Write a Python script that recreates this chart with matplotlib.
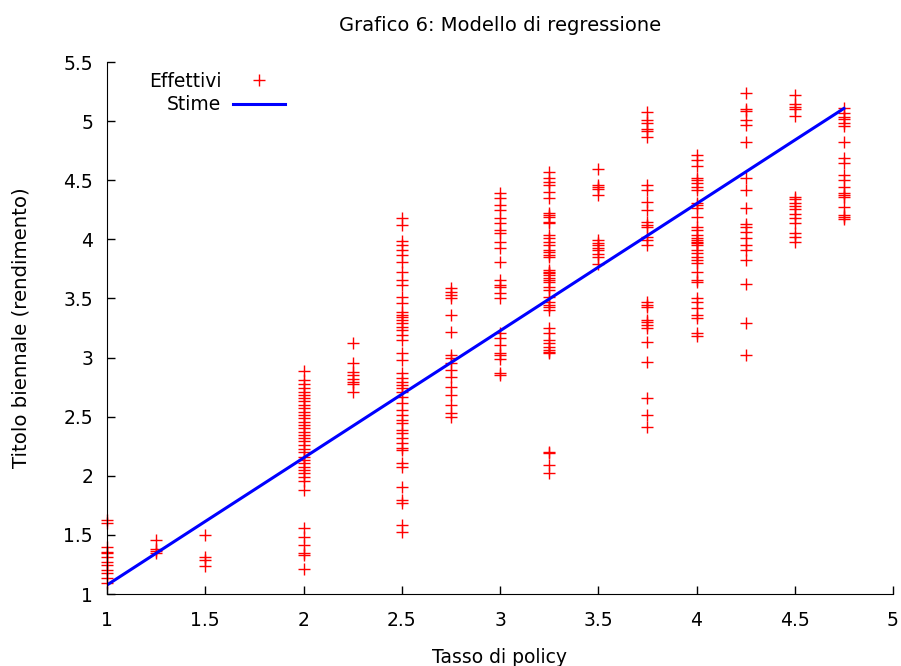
import numpy as np
import matplotlib as mpl
mpl.use('Agg')
from matplotlib import pyplot as plt
from matplotlib.ticker import FuncFormatter, MultipleLocator

# -- dati: tasso di policy e rendimento del titolo biennale --
y_100 = [1.626, 1.603, 1.40, 1.358, 1.344, 1.315, 1.273, 1.245, 1.203, 1.175, 1.133, 1.09]
y_125 = [1.457, 1.378, 1.366, 1.349]
y_150 = [1.50, 1.315, 1.29, 1.237]
y_200 = [2.889, 2.81, 2.78, 2.74, 2.71, 2.68, 2.655, 2.63, 2.60, 2.57, 2.54, 2.51,
         2.485, 2.457, 2.43, 2.40, 2.37, 2.345, 2.316, 2.29, 2.26, 2.23, 2.20, 2.16,
         2.13, 2.105, 2.077, 2.05, 2.02, 1.99, 1.96, 1.88,
         1.556, 1.485, 1.414, 1.344, 1.33, 1.209]
y_225 = [3.125, 2.95, 2.88, 2.85, 2.82, 2.79, 2.78, 2.71]
y_250 = [4.177, 4.12, 3.99, 3.95, 3.91, 3.867, 3.81, 3.726, 3.655, 3.613, 3.514,
         3.458, 3.388, 3.36, 3.345, 3.317, 3.289, 3.26, 3.232, 3.19, 3.148, 3.035,
         2.979, 2.866, 2.824, 2.796, 2.767, 2.739, 2.711, 2.669, 2.612, 2.556,
         2.514, 2.471, 2.443, 2.387, 2.359, 2.316, 2.274, 2.232, 2.218, 2.105,
         2.077, 1.908, 1.795, 1.767, 1.584, 1.527]
y_275 = [3.585, 3.557, 3.529, 3.50, 3.36, 3.218, 3.02, 2.993, 2.95, 2.894, 2.838,
         2.753, 2.683, 2.598, 2.528, 2.50]
y_300 = [4.388, 4.346, 4.29, 4.247, 4.177, 4.135, 4.078, 4.05, 3.98, 3.923, 3.81,
         3.655, 3.613, 3.60, 3.543, 3.50, 3.204, 3.162, 3.106, 3.035, 3.02, 2.99,
         2.866, 2.852]
y_325 = [4.572, 4.515, 4.487, 4.459, 4.402, 4.346, 4.219, 4.205, 4.19, 4.149, 4.135,
         4.036, 4.008, 3.98, 3.95, 3.91, 3.895, 3.867, 3.853, 3.74, 3.726, 3.712,
         3.698, 3.669, 3.655, 3.641, 3.60, 3.571, 3.514, 3.472, 3.444, 3.43, 3.40,
         3.247, 3.204, 3.148, 3.12, 3.092, 3.063, 3.049, 3.035, 2.204, 2.19, 2.091,
         2.02]
y_350 = [4.591, 4.458, 4.444, 4.422, 4.374, 3.994, 3.97, 3.95, 3.923, 3.909, 3.88,
         3.853, 3.79]
y_375 = [5.079, 5.008, 4.98, 4.93, 4.918, 4.867, 4.459, 4.416, 4.318, 4.247, 4.149,
         4.12, 4.106, 4.022, 3.994, 3.951, 3.472, 3.444, 3.43, 3.317, 3.303, 3.275,
         3.247, 3.134, 2.965, 2.655, 2.514, 2.415]
y_400 = [4.712, 4.67, 4.619, 4.515, 4.501, 4.473, 4.445, 4.416, 4.304, 4.29, 4.261,
         4.191, 4.106, 4.078, 4.036, 4.008, 3.994, 3.98, 3.966, 3.951, 3.909, 3.881,
         3.853, 3.825, 3.796, 3.726, 3.655, 3.641, 3.50, 3.472, 3.416, 3.359, 3.331,
         3.204, 3.182]
y_425 = [5.234, 5.099, 5.087, 5.008, 4.966, 4.825, 4.515, 4.416, 4.261, 4.129, 4.106,
         4.064, 4.008, 3.951, 3.909, 3.825, 3.622, 3.295, 3.021]
y_450 = [5.22, 5.144, 5.121, 5.099, 5.042, 4.36, 4.338, 4.306, 4.281, 4.253, 4.214,
         4.177, 4.135, 4.05, 4.022, 3.98]
y_475 = [5.107, 5.07, 5.031, 5.014, 4.98, 4.958, 4.825, 4.684, 4.642, 4.543, 4.501,
         4.439, 4.388, 4.374, 4.36, 4.276, 4.205, 4.191, 4.168]

tassi = [1.0, 1.25, 1.5, 2.0, 2.25, 2.5, 2.75, 3.0, 3.25, 3.5, 3.75, 4.0, 4.25, 4.5, 4.75]
effettivi = [y_100, y_125, y_150, y_200, y_225, y_250, y_275, y_300, y_325, y_350,
             y_375, y_400, y_425, y_450, y_475]

# valori stimati dal modello
stime = [1.076, 1.345, 1.614, 2.151, 2.42, 2.689, 2.957, 3.226, 3.495, 3.764,
         4.032, 4.301, 4.57, 4.839, 5.107]


def main():
    mpl.rc('font', family='DejaVu Sans', size=13.5)

    fig = plt.figure(figsize=(9.01, 6.66), dpi=100)
    ax = fig.add_axes([107/901, 1 - 594/666, 786/901, 532/666])

    xs = np.concatenate([np.full(len(v), t) for t, v in zip(tassi, effettivi)])
    ys = np.concatenate([np.array(v) for v in effettivi])

    ax.plot(xs, ys, linestyle='none', marker='+', color='#ff0000',
            markersize=8.8, markeredgewidth=1.0, label='Effettivi', clip_on=False)
    ax.plot(tassi, stime, color='#0000ff', linewidth=2.2, label='Stime')

    ax.set_xlim(1, 5)
    ax.set_ylim(1, 5.5)
    ax.xaxis.set_major_locator(MultipleLocator(0.5))
    ax.yaxis.set_major_locator(MultipleLocator(0.5))
    fmt = FuncFormatter(lambda v, p: '%g' % v)
    ax.xaxis.set_major_formatter(fmt)
    ax.yaxis.set_major_formatter(fmt)

    ax.spines['top'].set_visible(False)
    ax.spines['right'].set_visible(False)
    ax.tick_params(direction='in', length=6, width=1)
    ax.tick_params(axis='x', pad=12)
    ax.tick_params(axis='y', pad=10)

    ax.set_title("Grafico 6: Modello di regressione", pad=22, fontsize=14)
    ax.set_xlabel("Tasso di policy", labelpad=13)
    ax.set_ylabel("Titolo biennale (rendimento)", labelpad=24, fontsize=14.2)

    ax.legend(loc='upper right', bbox_to_anchor=(0.2265, 0.982), frameon=False,
              markerfirst=False, handlelength=2.8, handletextpad=0.6,
              labelspacing=0.25, borderpad=0, borderaxespad=0)

    plt.savefig("out.png", dpi=100)


if __name__ == "__main__":
    main()
